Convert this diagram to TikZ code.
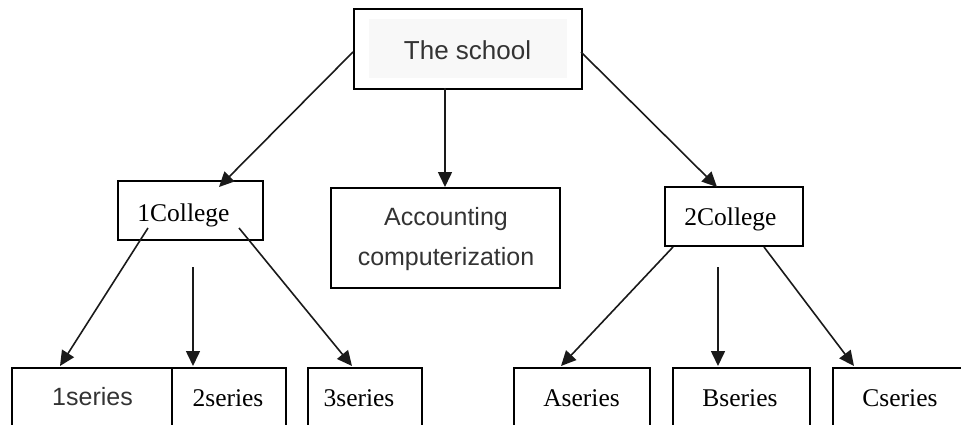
\documentclass[tikz,border=0pt]{standalone}
\usepackage{fontspec}
\setmainfont{Liberation Serif}
\setsansfont{Liberation Sans}
\usetikzlibrary{arrows.meta}
\definecolor{ink}{HTML}{1A1A1A}
\definecolor{txtgray}{HTML}{333333}
\definecolor{panel}{HTML}{F8F8F8}
\tikzset{
  boxnode/.style={draw=black, line width=1.6pt, inner sep=0pt, anchor=north west},
  sanslbl/.style={font=\sffamily\fontsize{25}{30}\selectfont, text=txtgray, inner sep=0pt, anchor=base},
  seriflbl/.style={font=\rmfamily\fontsize{25.5}{30}\selectfont, text=black, inner sep=0pt, anchor=base},
  arr/.style={draw=ink, line width=1.6pt, -{Triangle[length=15pt,width=14pt]}}
}
\begin{document}
\begin{tikzpicture}[x=1pt,y=-1pt]
\useasboundingbox (0,0) rectangle (961,425);
\begin{scope}
\clip (0,0) rectangle (961,425);
% top box
\node[boxnode, minimum width=228pt, minimum height=80pt] (top) at (353,8) {};
\node[fill=panel, inner sep=0pt, minimum width=198pt, minimum height=59pt, anchor=north west] (topin) at (369,19) {};
\node[sanslbl, font=\sffamily\fontsize{26}{30}\selectfont] (toplbl) at (467.5,60) {The school};
% second level
\node[boxnode, minimum width=145pt, minimum height=59pt] (c1) at (117,180) {};
\node[seriflbl] (c1lbl) at (183.5,221.5) {1College};
\node[boxnode, minimum width=229pt, minimum height=100pt] (acc) at (330,187) {};
\node[sanslbl] (acclbl1) at (446,225) {Accounting};
\node[sanslbl] (acclbl2) at (446,265) {computerization};
\node[boxnode, minimum width=138pt, minimum height=59pt] (c2) at (664,186) {};
\node[seriflbl] (c2lbl) at (730.5,225) {2College};
% bottom boxes
\node[boxnode, minimum width=160pt, minimum height=80pt] (s1) at (11,367) {};
\node[sanslbl] (s1lbl) at (92.5,405.5) {1series};
\node[boxnode, minimum width=114pt, minimum height=80pt] (s2) at (171,367) {};
\node[seriflbl] (s2lbl) at (228,406.5) {2series};
\node[boxnode, minimum width=114pt, minimum height=80pt] (s3) at (307,367) {};
\node[seriflbl] (s3lbl) at (359,406.5) {3series};
\node[boxnode, minimum width=136pt, minimum height=80pt] (sa) at (513,367) {};
\node[seriflbl] (salbl) at (581.5,406.5) {Aseries};
\node[boxnode, minimum width=137pt, minimum height=80pt] (sb) at (672,367) {};
\node[seriflbl] (sblbl) at (740,406.5) {Bseries};
\node[boxnode, minimum width=136pt, minimum height=80pt] (sc) at (832,367) {};
\node[seriflbl] (sclbl) at (900,406.5) {Cseries};
% connector end points
\coordinate (a1s) at (353,52);   \coordinate (a1e) at (219,187);
\coordinate (a2s) at (445,88);   \coordinate (a2e) at (445,187);
\coordinate (a3s) at (581,52);   \coordinate (a3e) at (717,187);
\coordinate (b1s) at (148,228);  \coordinate (b1e) at (60,366);
\coordinate (b2s) at (193,267);  \coordinate (b2e) at (193,366);
\coordinate (b3s) at (239,228);  \coordinate (b3e) at (352,366);
\coordinate (d1s) at (673,247);  \coordinate (d1e) at (561,366);
\coordinate (d2s) at (718,267);  \coordinate (d2e) at (718,366);
\coordinate (d3s) at (764,247);  \coordinate (d3e) at (854,366);
\draw[arr] (a1s) -- (a1e);
\draw[arr] (a2s) -- (a2e);
\draw[arr] (a3s) -- (a3e);
\draw[arr] (b1s) -- (b1e);
\draw[arr] (b2s) -- (b2e);
\draw[arr] (b3s) -- (b3e);
\draw[arr] (d1s) -- (d1e);
\draw[arr] (d2s) -- (d2e);
\draw[arr] (d3s) -- (d3e);
\end{scope}
\end{tikzpicture}
\end{document}
